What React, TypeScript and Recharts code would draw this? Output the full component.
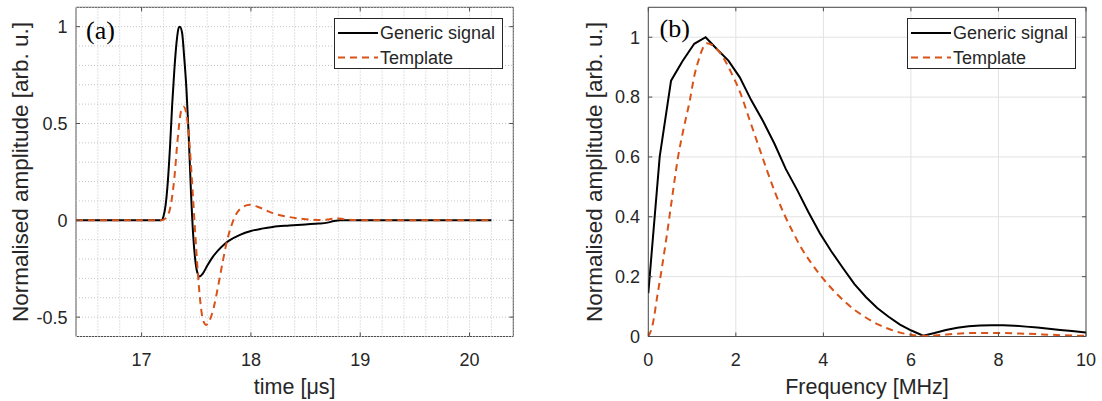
import {
  LineChart,
  Line,
  XAxis,
  YAxis,
  CartesianGrid,
  Legend,
  ReferenceLine,
  ReferenceArea,
} from 'recharts';

// (a) time domain
const timeSignal = [
  16.4, 17.0, 17.18, 17.2, 17.22, 17.24, 17.26, 17.28, 17.3, 17.32, 17.34, 17.35, 17.37, 17.39,
  17.41, 17.43, 17.45, 17.47, 17.49, 17.51, 17.53, 17.56, 17.6, 17.65, 17.7, 17.75, 17.8, 17.9,
  18.0, 18.1, 18.2, 18.35, 18.5, 18.62, 18.7, 18.76, 18.82, 19.5, 20.2,
];
const ampSignal = [
  0, 0, 0, 0.02, 0.08, 0.2, 0.38, 0.6, 0.78, 0.92, 0.995, 1.0, 0.97, 0.84,
  0.68, 0.45, 0.17, -0.06, -0.2, -0.27, -0.29, -0.275, -0.235, -0.19, -0.155, -0.127, -0.105, -0.075,
  -0.055, -0.043, -0.034, -0.027, -0.021, -0.017, -0.012, -0.004, 0, 0, 0,
];
const timeTemplate = [
  16.4, 17.0, 17.18, 17.22, 17.26, 17.3, 17.33, 17.36, 17.385, 17.41, 17.44, 17.47, 17.5, 17.53,
  17.56, 17.59, 17.62, 17.66, 17.7, 17.74, 17.78, 17.82, 17.87, 17.93, 17.99, 18.06, 18.2, 18.35,
  18.5, 18.65, 18.72, 18.78, 18.85, 18.95, 19.1, 20.2,
];
const ampTemplate = [
  0, 0, 0, 0.01, 0.06, 0.22, 0.42, 0.56, 0.587, 0.55, 0.38, 0.12, -0.15, -0.38,
  -0.51, -0.54, -0.52, -0.45, -0.34, -0.22, -0.11, -0.03, 0.037, 0.07, 0.08, 0.07, 0.037, 0.017,
  0.006, 0.001, 0.006, 0.011, 0.006, 0.001, 0, 0,
];

// (b) spectrum
const freqSignal = [
  0, 0.26, 0.52, 0.78, 1.05, 1.31, 1.57, 1.83, 2.09, 2.35, 2.62, 2.88, 3.14, 3.4, 3.66, 3.92,
  4.18, 4.45, 4.71, 4.97, 5.23, 5.49, 5.75, 6.01, 6.28, 6.54, 6.8, 7.06, 7.32, 7.58, 7.85, 8.11,
  8.37, 8.63, 8.89, 9.15, 9.41, 9.68, 9.94, 10,
];
const specSignal = [
  0.145, 0.6, 0.855, 0.92, 0.978, 1.0, 0.96, 0.922, 0.866, 0.79, 0.72, 0.645, 0.56, 0.49, 0.415, 0.345,
  0.285, 0.228, 0.175, 0.132, 0.095, 0.066, 0.04, 0.02, 0.003, 0.012, 0.022, 0.029, 0.034, 0.037, 0.038, 0.038,
  0.036, 0.033, 0.03, 0.026, 0.022, 0.018, 0.014, 0.013,
];
const freqTemplate = [
  0, 0.1, 0.2, 0.3, 0.43, 0.55, 0.68, 0.8, 0.95, 1.05, 1.15, 1.25, 1.33, 1.5, 1.7, 1.9, 2.1,
  2.3, 2.5, 2.7, 2.9, 3.1, 3.3, 3.5, 3.7, 3.9, 4.1, 4.3, 4.5, 4.7, 4.9, 5.1, 5.3, 5.5, 5.75,
  6.0, 6.3, 6.6, 7.0, 7.5, 8.0, 8.5, 9.0, 9.5, 10,
];
const specTemplate = [
  0, 0.04, 0.13, 0.22, 0.345, 0.47, 0.6, 0.69, 0.79, 0.87, 0.924, 0.965, 0.98, 0.97, 0.935, 0.88, 0.815,
  0.73, 0.645, 0.56, 0.48, 0.41, 0.35, 0.295, 0.25, 0.21, 0.175, 0.143, 0.115, 0.09, 0.07, 0.052, 0.037, 0.025, 0.013,
  0.006, 0.002, 0.004, 0.009, 0.012, 0.012, 0.01, 0.007, 0.004, 0.002,
];

const timeTicks = [17, 18, 19, 20];
const ampTicks = [-0.5, 0, 0.5, 1];
const freqTicks = [0, 2, 4, 6, 8, 10];
const specTicks = [0, 0.2, 0.4, 0.6, 0.8, 1];

const seriesNames = ['Generic signal', 'Template'];

const signalA = timeSignal.map((t, i) => ({ x: t, y: ampSignal[i] }));
const templateA = timeTemplate.map((t, i) => ({ x: t, y: ampTemplate[i] }));
const signalB = freqSignal.map((f, i) => ({ x: f, y: specSignal[i] }));
const templateB = freqTemplate.map((f, i) => ({ x: f, y: specTemplate[i] }));

const SANS = '"Liberation Sans", Arial, sans-serif';
const TXT = '#262626';
const ORANGE = '#D95319';
const BOX = '#4d4d4d';
const DASH = '7 5';
const LW = 2;

// minor grid for panel (a)
const minorX: number[] = [];
for (let i = 0; i <= 20; i++) minorX.push(+(16.4 + i * 0.2).toFixed(2));
const minorY: number[] = [];
for (let i = 0; i <= 17; i++) minorY.push(+(-0.6 + i * 0.1).toFixed(2));

function BoxLegend(props: any) {
  const items = props.payload || [];
  return (
    <svg width={169} height={51} style={{ display: 'block' }}>
      <rect x={0.5} y={0.5} width={168} height={50} fill="#fff" stroke={TXT} strokeWidth={1} />
      {items.map((it: any, i: number) => {
        const cy = 15 + i * 24.4;
        return (
          <g key={i}>
            <line
              x1={4}
              x2={44}
              y1={cy}
              y2={cy}
              stroke={it.color}
              strokeWidth={LW}
              strokeDasharray={it.payload?.strokeDasharray}
            />
            <text x={46} y={cy + 6.4} fontFamily={SANS} fontSize={18} fill={TXT}>
              {it.value}
            </text>
          </g>
        );
      })}
    </svg>
  );
}

const tickStyle = { fontFamily: SANS, fontSize: 18, fill: TXT };

function PanelA() {
  const tx = 0.0366;
  const ty = 0.021;
  return (
    <LineChart width={551} height={401} margin={{ top: 7.3, right: 37.7, left: 16, bottom: 0 }}>
      {minorX.map((v) => (
        <ReferenceLine key={'mx' + v} x={v} stroke="#c4c4c4" strokeDasharray="1 2" />
      ))}
      {minorY.map((v) => (
        <ReferenceLine key={'my' + v} y={v} stroke="#c4c4c4" strokeDasharray="1 2" />
      ))}
      <XAxis
        dataKey="x"
        type="number"
        domain={[16.4, 20.4]}
        ticks={timeTicks}
        allowDataOverflow
        tickLine={false}
        axisLine={false}
        tickSize={0}
        tickMargin={16.5}
        height={64.5}
        tick={tickStyle}
      />
      <YAxis
        dataKey="y"
        type="number"
        domain={[-0.6, 1.1]}
        ticks={ampTicks}
        allowDataOverflow
        tickLine={false}
        axisLine={false}
        tickSize={0}
        tickMargin={8.5}
        width={60}
        tick={tickStyle}
      />
      <Line
        data={signalA}
        dataKey="y"
        name={seriesNames[0]}
        stroke="#000"
        strokeWidth={LW}
        dot={false}
        type="monotone"
        isAnimationActive={false}
      />
      <Line
        data={templateA}
        dataKey="y"
        name={seriesNames[1]}
        stroke={ORANGE}
        strokeWidth={LW}
        strokeDasharray={DASH}
        dot={false}
        type="monotone"
        isAnimationActive={false}
      />
      <ReferenceArea x1={16.4} x2={20.4} y1={-0.6} y2={1.1} fill="none" stroke={BOX} strokeWidth={1} />
      {timeTicks.map((v) => (
        <ReferenceLine key={'tb' + v} segment={[{ x: v, y: -0.6 }, { x: v, y: -0.6 + ty }]} stroke={BOX} />
      ))}
      {timeTicks.map((v) => (
        <ReferenceLine key={'tt' + v} segment={[{ x: v, y: 1.1 }, { x: v, y: 1.1 - ty }]} stroke={BOX} />
      ))}
      {ampTicks.map((v) => (
        <ReferenceLine key={'tl' + v} segment={[{ x: 16.4, y: v }, { x: 16.4 + tx, y: v }]} stroke={BOX} />
      ))}
      {ampTicks.map((v) => (
        <ReferenceLine key={'tr' + v} segment={[{ x: 20.4, y: v }, { x: 20.4 - tx, y: v }]} stroke={BOX} />
      ))}
      <Legend
        layout="horizontal"
        verticalAlign="middle"
        align="center"
        content={BoxLegend}
        wrapperStyle={{ left: 334, top: 18, width: 169, height: 51 }}
      />
    </LineChart>
  );
}

function PanelB() {
  const tx = 0.091;
  const ty = 0.0134;
  return (
    <LineChart width={551} height={401} margin={{ top: 7.3, right: 16, left: 37.3, bottom: 0 }}>
      <CartesianGrid stroke="#e2e2e2" strokeWidth={1} />
      <XAxis
        dataKey="x"
        type="number"
        domain={[0, 10]}
        ticks={freqTicks}
        allowDataOverflow
        tickLine={false}
        axisLine={false}
        tickSize={0}
        tickMargin={16.5}
        height={64.5}
        tick={tickStyle}
      />
      <YAxis
        dataKey="y"
        type="number"
        domain={[0, 1.1]}
        ticks={specTicks}
        allowDataOverflow
        tickLine={false}
        axisLine={false}
        tickSize={0}
        tickMargin={8.3}
        width={60}
        tick={tickStyle}
      />
      <Line
        data={signalB}
        dataKey="y"
        name={seriesNames[0]}
        stroke="#000"
        strokeWidth={LW}
        dot={false}
        type="linear"
        isAnimationActive={false}
      />
      <Line
        data={templateB}
        dataKey="y"
        name={seriesNames[1]}
        stroke={ORANGE}
        strokeWidth={LW}
        strokeDasharray={DASH}
        dot={false}
        type="monotone"
        isAnimationActive={false}
      />
      <ReferenceArea x1={0} x2={10} y1={0} y2={1.1} fill="none" stroke={BOX} strokeWidth={1} />
      {freqTicks.map((v) => (
        <ReferenceLine key={'tb' + v} segment={[{ x: v, y: 0 }, { x: v, y: ty }]} stroke={BOX} />
      ))}
      {freqTicks.map((v) => (
        <ReferenceLine key={'tt' + v} segment={[{ x: v, y: 1.1 }, { x: v, y: 1.1 - ty }]} stroke={BOX} />
      ))}
      {specTicks.map((v) => (
        <ReferenceLine key={'tl' + v} segment={[{ x: 0, y: v }, { x: tx, y: v }]} stroke={BOX} />
      ))}
      {specTicks.map((v) => (
        <ReferenceLine key={'tr' + v} segment={[{ x: 10, y: v }, { x: 10 - tx, y: v }]} stroke={BOX} />
      ))}
      <Legend
        layout="horizontal"
        verticalAlign="middle"
        align="center"
        content={BoxLegend}
        wrapperStyle={{ left: 355.7, top: 18, width: 169, height: 51 }}
      />
    </LineChart>
  );
}

export default function App() {
  return (
    <div style={{ position: 'absolute', left: 0, top: 0, width: 1102, height: 401, background: '#fff' }}>
      <div style={{ position: 'absolute', left: 0, top: 0 }}>
        <PanelA />
      </div>
      <div style={{ position: 'absolute', left: 551, top: 0 }}>
        <PanelB />
      </div>
      <svg
        width={1102}
        height={401}
        style={{ position: 'absolute', left: 0, top: 0, pointerEvents: 'none' }}
      >
        <text x={86} y={38.5} fontFamily='"Liberation Serif", "Times New Roman", serif' fontSize={26} fill="#000">
          (a)
        </text>
        <text x={659.5} y={37} fontFamily='"Liberation Serif", "Times New Roman", serif' fontSize={26} fill="#000">
          (b)
        </text>
        <text x={294.7} y={394} textAnchor="middle" fontFamily={SANS} fontSize={21.5} fill={TXT}>
          time [μs]
        </text>
        <text x={867} y={394} textAnchor="middle" fontFamily={SANS} fontSize={21.5} fill={TXT}>
          Frequency [MHz]
        </text>
        <text
          x={27.5}
          y={172}
          transform="rotate(-90, 27.5, 172)"
          textAnchor="middle"
          fontFamily={SANS}
          fontSize={22.5}
          fill={TXT}
        >
          Normalised amplitude [arb. u.]
        </text>
        <text
          x={601.5}
          y={172}
          transform="rotate(-90, 601.5, 172)"
          textAnchor="middle"
          fontFamily={SANS}
          fontSize={22.5}
          fill={TXT}
        >
          Normalised amplitude [arb. u.]
        </text>
      </svg>
    </div>
  );
}
